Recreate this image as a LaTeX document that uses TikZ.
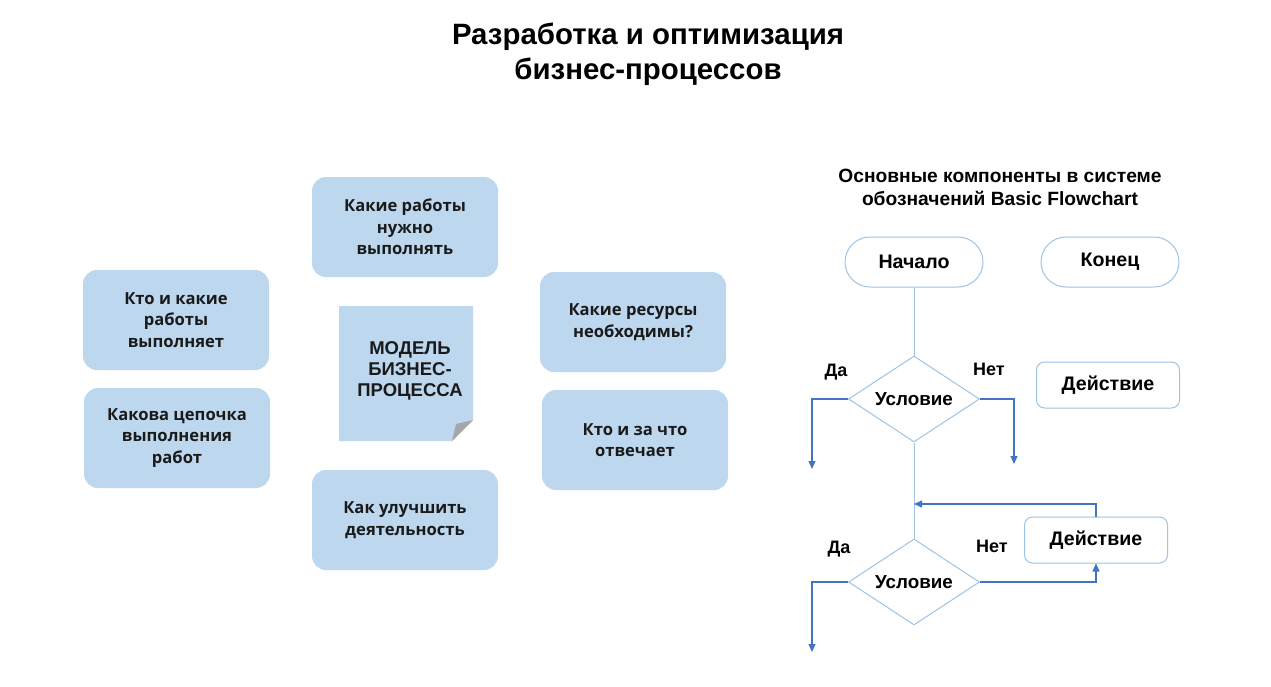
\documentclass[tikz,border=0pt]{standalone}
\usepackage{fontspec}
\setmainfont{Liberation Sans}
\newfontfamily\boxfont{Open Sans}
\usetikzlibrary{shapes.geometric,arrows.meta}
\definecolor{boxfill}{HTML}{BDD7EE}
\definecolor{lineblue}{HTML}{9DC3E6}
\definecolor{arrblue}{HTML}{4472C4}
\definecolor{txt}{HTML}{1A1A1A}
\tikzset{
  qbox/.style={draw=none, fill=boxfill, rounded corners=14pt, minimum width=186pt, minimum height=100pt,
    align=center, text=txt, font=\boxfont\bfseries\fontsize{16.6}{21.5}\selectfont},
  term/.style={draw=lineblue, line width=1pt, rounded corners=25pt, minimum width=138pt, minimum height=50pt,
    font=\bfseries\fontsize{19.6}{22}\selectfont, text=black},
  actbox/.style={draw=lineblue, line width=1pt, rounded corners=8pt, minimum width=143pt, minimum height=46pt,
    font=\bfseries\fontsize{19.6}{22}\selectfont, text=black},
  cond/.style={draw=lineblue, line width=1pt, diamond, aspect=1.52, inner sep=0pt, minimum width=131pt, minimum height=86pt,
    font=\bfseries\fontsize{18.8}{22}\selectfont, text=black},
  lbl/.style={font=\bfseries\fontsize{18}{20}\selectfont, text=black},
  trunk/.style={draw=lineblue, line width=1pt},
  flow/.style={draw=arrblue, line width=1.2pt, -{Triangle[length=8pt,width=7pt]}},
}
\begin{document}
\begin{tikzpicture}[x=1pt,y=-1pt]
\useasboundingbox (0,0) rectangle (1271,686);
% title
\node[font=\bfseries\fontsize{29.4}{35}\selectfont, align=center, text=black] (title) at (648,54)
  {Разработка и оптимизация\\бизнес-процессов};
% question boxes
\node[qbox] (q1) at (176,320) {Кто и какие\\работы\\выполняет};
\node[qbox] (q2) at (177,438) {Какова цепочка\\выполнения\\работ};
\node[qbox] (q3) at (405,227) {Какие работы\\нужно\\выполнять};
\node[qbox] (q4) at (405,520) {Как улучшить\\деятельность};
\node[qbox] (q5) at (633,322) {Какие ресурсы\\необходимы?};
\node[qbox] (q6) at (635,440) {Кто и за что\\отвечает};
% central note
\fill[boxfill] (339,306) -- (473,306) -- (473,420) -- (452,441) -- (339,441) -- cycle;
\fill[gray!70] (473,420) -- (452,441) -- (456,424) -- cycle;
\node[font=\bfseries\fontsize{18.5}{21}\selectfont, align=center, text=txt] (note) at (410,371)
  {МОДЕЛЬ\\БИЗНЕС-\\ПРОЦЕССА};
% flowchart header
\node[font=\bfseries\fontsize{19.2}{23}\selectfont, align=center, text=black] (fh) at (1000,187)
  {Основные компоненты в системе\\обозначений Basic Flowchart};
\node[term] (start) at (914,262) {Начало};
\node[term] (end) at (1110,262) {Конец};
\node[cond] (d1) at (914,399) {Условие};
\node[actbox] (a1) at (1108,385) {Действие};
\node[cond] (d2) at (914,582) {Условие};
\node[actbox] (a2) at (1096,540) {Действие};
\node[lbl] (da1) at (836,372) {Да};
\node[lbl] (net1) at (989,369) {Нет};
\node[lbl] (da2) at (839,549) {Да};
\node[lbl] (net2) at (992,546) {Нет};
\coordinate (y1) at (812,469);
\coordinate (n1) at (1014,464);
\coordinate (y2) at (812,652);
\coordinate (j) at (914,504);
\draw[trunk] (start.south) -- (d1.north);
\draw[trunk] (d1.south) -- (d2.north);
\draw[flow] (d1.west) -| (y1);
\draw[flow] (d1.east) -| (n1);
\draw[flow] (d2.west) -| (y2);
\draw[flow] (d2.east) -| (a2.south);
\draw[flow] (a2.north) |- (j);
\end{tikzpicture}
\end{document}
